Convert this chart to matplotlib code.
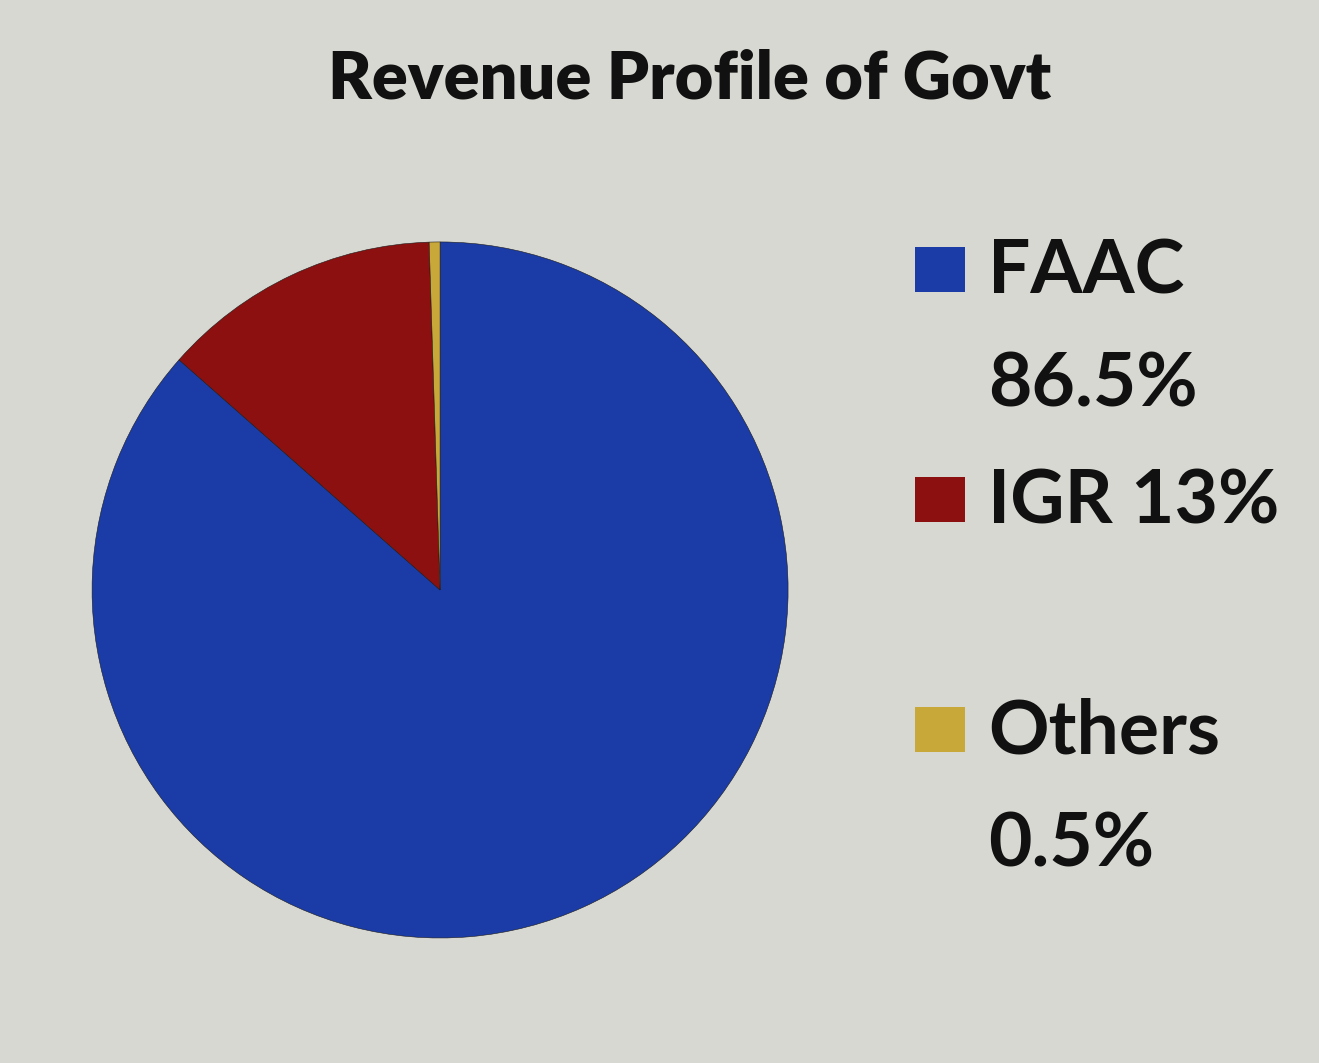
import matplotlib.pyplot as plt
from matplotlib.patches import Rectangle

categorias = ["FAAC", "IGR", "Others"]
valores = [86.5, 13, 0.5]
rotulos = ["FAAC\n86.5%", "IGR 13%", "Others\n0.5%"]
cores = ["#1b3ca6", "#8c1010", "#c9a83a"]

fundo = "#d8d8d2"
fig = plt.figure(figsize=(13.19, 10.63), dpi=100, facecolor=fundo)
ax = fig.add_axes([0.0698, 0.1176, 0.5277, 0.6548])
ax.set_facecolor(fundo)
ax.pie(valores, colors=cores, startangle=90, counterclock=False, radius=1,
       wedgeprops=dict(edgecolor="#1a1a1a", linewidth=0.4))
ax.set_xlim(-1.0, 1.0)
ax.set_ylim(-1.0, 1.0)
ax.set_aspect("equal")

fig.text(0.523, 0.926, "Revenue Profile of Govt", ha="center", va="center",
         fontsize=48, fontweight="heavy", family="Lato", color="#111111")

# legenda manual (topo de cada item, em pixels a partir do topo)
topos = [245, 475, 705]
for rot, cor, topo in zip(rotulos, cores, topos):
    y = 1 - topo / 1063
    fig.patches.append(Rectangle((915 / 1319, y - 47 / 1063), 50 / 1319, 45 / 1063,
                                 transform=fig.transFigure, facecolor=cor,
                                 edgecolor="none"))
    fig.text(988 / 1319, y + 8 / 1063, rot, ha="left", va="top", fontsize=54,
             fontweight="bold", family="Lato", color="#111111", linespacing=1.8)

fig.savefig("out.png", dpi=100, facecolor=fundo)
